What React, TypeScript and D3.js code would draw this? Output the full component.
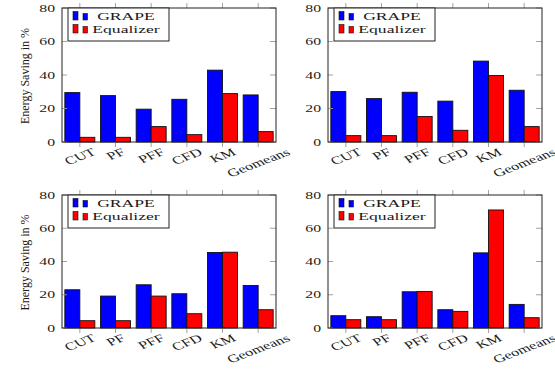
import * as d3 from "d3";

const categories = ["CUT", "PF", "PFF", "CFD", "KM", "Geomeans"];
const seriesNames = ["GRAPE", "Equalizer"];
const seriesColors = ["#0000ff", "#ff0000"];
const yTicks = [0, 20, 40, 60, 80];

const grapeTopLeft = [29.5, 27.7, 19.6, 25.5, 42.9, 28.1];
const eqTopLeft = [2.8, 2.8, 9.2, 4.4, 28.9, 6.2];
const grapeTopRight = [30.1, 25.9, 29.7, 24.4, 48.3, 30.9];
const eqTopRight = [3.8, 3.8, 15.2, 7.0, 39.7, 9.2];
const grapeBottomLeft = [23.0, 19.2, 26.0, 20.6, 45.4, 25.6];
const eqBottomLeft = [4.4, 4.4, 19.2, 8.6, 45.6, 11.0];
const grapeBottomRight = [7.4, 6.8, 21.8, 11.0, 45.2, 14.2];
const eqBottomRight = [5.0, 5.0, 22.0, 10.0, 71.0, 6.2];

const W = 555;
const H = 371;
const FONT = "'Liberation Serif', serif";
const SX = 1.5; // the reference's text is stretched sideways
const INK = "#1a1a1a";
const TICK = "#999";

const panels = [
  { left: 62, top: 8, bottom: 142, grape: grapeTopLeft, eq: eqTopLeft, ylabel: true },
  { left: 328, top: 8, bottom: 142, grape: grapeTopRight, eq: eqTopRight, ylabel: false },
  { left: 62, top: 195, bottom: 328, grape: grapeBottomLeft, eq: eqBottomLeft, ylabel: true },
  { left: 328, top: 195, bottom: 328, grape: grapeBottomRight, eq: eqBottomRight, ylabel: false },
];
const panelW = 214;

let ctx: CanvasRenderingContext2D | null = null;
function textWidth(s: string, size: number) {
  if (!ctx) ctx = document.createElement("canvas").getContext("2d");
  if (!ctx) return s.length * size * 0.5;
  ctx.font = `${size}px 'Liberation Serif'`;
  return ctx.measureText(s).width;
}

function Panel({ p }: { p: (typeof panels)[number] }) {
  const right = p.left + panelW;
  const x = d3.scaleBand().domain(categories).range([p.left, right]).padding(0);
  const y = d3.scaleLinear().domain([0, 80]).range([p.bottom, p.top]);
  const barW = 15;
  const angle = 30;
  const rad = (angle * Math.PI) / 180;
  const lx = p.left + 6;
  const ly = p.top;

  return (
    <g>
      {categories.map((c, i) => {
        const cx = x(c)! + x.bandwidth() / 2;
        return [p.grape[i], p.eq[i]].map((v, s) => (
          <rect
            key={`${c}-${s}`}
            x={cx - barW + s * barW}
            y={y(v)}
            width={barW}
            height={y(0) - y(v)}
            fill={seriesColors[s]}
            stroke="#111"
            strokeWidth={0.9}
          />
        ));
      })}

      {yTicks.map((t) => (
        <g key={t}>
          <line x1={p.left} x2={p.left + 5} y1={y(t)} y2={y(t)} stroke={TICK} strokeWidth={0.9} />
          <line x1={right - 6} x2={right} y1={y(t)} y2={y(t)} stroke={TICK} strokeWidth={0.9} />
          <text
            transform={`translate(${p.left - 7},${y(t) + 3.6}) scale(${SX},1)`}
            textAnchor="end"
            fontFamily={FONT}
            fontSize={10.5}
            fill={INK}
          >
            {t}
          </text>
        </g>
      ))}

      {categories.map((c) => {
        const cx = x(c)! + x.bandwidth() / 2;
        const len = textWidth(c, 11);
        // top of the rotated label's box sits just under the axis
        const cy = p.bottom + 5 + (len * Math.sin(rad) + 9 * Math.cos(rad)) / 2;
        return (
          <g key={c}>
            <line x1={cx} x2={cx} y1={p.top - 5} y2={p.top} stroke={TICK} strokeWidth={0.9} />
            <line x1={cx} x2={cx} y1={p.bottom} y2={p.bottom + 5} stroke={TICK} strokeWidth={0.9} />
            <text
              transform={`translate(${cx},${cy}) scale(${SX},1) rotate(${-angle})`}
              textAnchor="middle"
              dy="0.35em"
              fontFamily={FONT}
              fontSize={11}
              fill={INK}
            >
              {c}
            </text>
          </g>
        );
      })}

      <rect x={p.left} y={p.top} width={panelW} height={p.bottom - p.top} fill="none" stroke="#222" strokeWidth={1} />

      <rect x={lx} y={ly} width={101} height={33} fill="#fff" stroke="#222" strokeWidth={1} />
      {seriesNames.map((name, s) => {
        const rowY = ly + 12 + s * 13;
        return (
          <g key={name}>
            <rect x={lx + 5} y={rowY - 8.5} width={5} height={8.5} fill={seriesColors[s]} stroke="#111" strokeWidth={0.6} />
            <rect x={lx + 15} y={rowY - 6.5} width={4.5} height={6.5} fill={seriesColors[s]} stroke="#111" strokeWidth={0.6} />
            <text
              transform={`translate(${lx + 58},${rowY}) scale(1.6,1)`}
              textAnchor="middle"
              fontFamily={FONT}
              fontSize={11}
              fill={INK}
            >
              {name}
            </text>
          </g>
        );
      })}

      {p.ylabel ? (
        <text
          transform={`translate(29,${(p.top + p.bottom) / 2 + 1}) rotate(-90)`}
          textAnchor="middle"
          fontFamily={FONT}
          fontSize={12}
          fill={INK}
        >
          Energy Saving in %
        </text>
      ) : null}
    </g>
  );
}

export default function App() {
  return (
    <svg width={W} height={H} viewBox={`0 0 ${W} ${H}`} style={{ position: "absolute", left: 0, top: 0, background: "#fff" }}>
      {panels.map((p, i) => (
        <Panel key={i} p={p} />
      ))}
    </svg>
  );
}
